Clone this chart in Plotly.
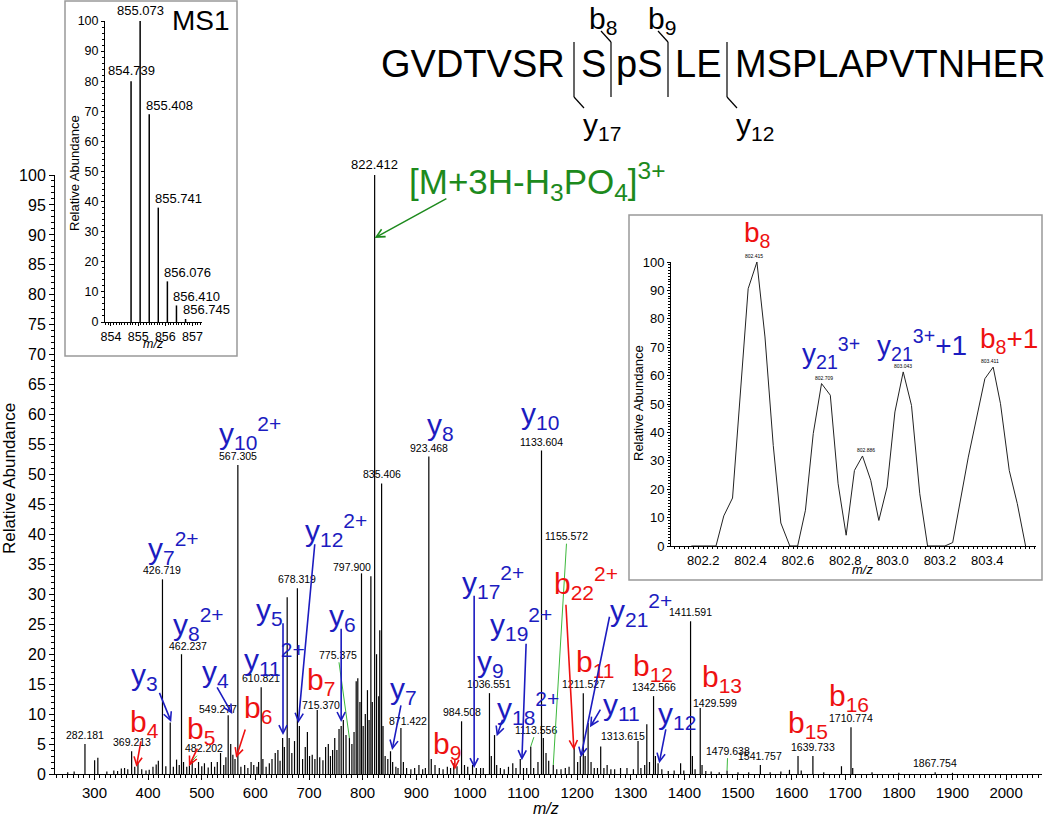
import plotly.graph_objects as go

W, H = 1050, 820
FONT = "Liberation Sans, Arial, sans-serif"
BLUE = "#1c1cc0"
RED = "#ee1111"
GREEN = "#1d8a1d"
LGREEN = "#3cb83c"

# ---------------- main MS/MS spectrum (m/z, relative abundance) ----------------
main_mz = [250, 262, 282.181, 300.2, 306.2, 323, 336, 343, 350, 356, 362, 369.213, 375, 381, 388, 396,
           402, 409, 415, 419, 426.719, 433, 441.2, 447, 453, 458, 462.237, 466, 472, 477, 482.202, 488,
           494, 500, 505, 512, 518, 524, 529, 535, 541, 545, 549.277, 554, 558, 562, 567.305, 573, 580,
           586, 592, 597, 603, 606, 610.821, 614, 620, 626, 631, 637, 642, 646, 650.8, 654, 659.3, 663,
           668, 673, 678.319, 682, 688, 693, 697, 701, 706, 711, 715.370, 720, 726, 731, 736, 740, 744,
           748, 752, 756, 760, 764, 769, 775.375, 780, 784, 788, 791, 795, 797.900, 801, 805, 809, 812,
           815.4, 818, 822.412, 826, 830, 832, 835.406, 838, 842, 847, 852, 856, 862, 866, 871.422, 876,
           882, 890, 897, 905, 912, 917, 923.468, 928, 935, 943, 950, 958, 964, 970, 976, 984.508, 990,
           996, 1005, 1012, 1020, 1025, 1036.551, 1040, 1046, 1050, 1057, 1064, 1072, 1080, 1086, 1094,
           1100, 1106, 1113.556, 1119, 1127, 1133.604, 1137, 1142, 1147, 1155.572, 1162, 1170, 1178,
           1185, 1194.5, 1201, 1206, 1211.527, 1215, 1220.5, 1226, 1232, 1238, 1244, 1250, 1256, 1263,
           1270, 1281, 1293, 1305, 1313.615, 1319, 1326, 1330, 1335, 1342.566, 1346, 1351, 1358, 1370,
           1381, 1393, 1399, 1411.591, 1415, 1420, 1429.599, 1433, 1440, 1450, 1465, 1479.638, 1500,
           1520, 1541.757, 1560, 1580, 1596, 1612, 1618, 1639.733, 1660, 1693, 1710.774, 1714, 1750,
           1800, 1867.754, 1900]
main_int = [0.3, 0.4, 5.0, 2.3, 2.7, 0.4, 0.6, 0.5, 0.9, 1.0, 0.8, 3.8, 1.2, 2.0, 0.8, 0.6,
            0.7, 1.2, 1.6, 2.2, 32.5, 1.3, 8.6, 1.2, 2.4, 1.5, 20.0, 2.0, 1.2, 1.4, 2.2, 1.0,
            2.0, 1.3, 1.8, 1.1, 2.0, 1.2, 2.0, 3.5, 1.5, 2.8, 9.8, 5.0, 3.2, 2.5, 51.6, 1.2, 1.5,
            1.0, 2.0, 1.5, 1.2, 2.0, 14.5, 2.5, 1.2, 1.8, 2.5, 3.5, 4.0, 2.2, 6.0, 4.5, 29.5, 6.0,
            3.5, 5.5, 31.0, 8.0, 2.5, 4.5, 7.0, 3.0, 3.2, 2.5, 10.7, 2.8, 2.3, 4.5, 5.0, 3.0, 4.0,
            6.0, 4.0, 7.5, 8.0, 9.0, 6.5, 6.0, 5.0, 7.0, 15.5, 16.0, 12.0, 33.5, 8.0, 10.0, 14.0, 9.0,
            33.0, 12.0, 100.0, 20.0, 13.0, 24.0, 48.5, 8.0, 3.0, 2.5, 3.8, 2.0, 1.2, 1.0, 7.7, 2.0,
            1.0, 0.8, 1.0, 1.5, 0.8, 1.0, 53.0, 2.5, 1.5, 1.0, 0.8, 1.2, 1.0, 1.8, 1.3, 8.8, 1.5,
            1.2, 1.5, 1.0, 1.0, 1.0, 13.5, 3.0, 6.5, 1.5, 1.0, 0.8, 1.2, 1.8, 1.0, 2.5,
            1.0, 1.0, 4.6, 1.0, 2.0, 54.0, 6.0, 3.5, 2.2, 1.5, 0.8, 0.8, 1.0,
            1.2, 4.5, 2.0, 3.0, 13.5, 3.0, 8.5, 2.0, 1.0, 1.0, 4.6, 1.0, 1.5, 0.8,
            0.8, 1.0, 1.0, 0.8, 5.5, 1.0, 1.5, 8.3, 2.0, 13.0, 3.0, 1.8, 0.8, 0.5,
            0.6, 1.8, 0.6, 25.5, 3.0, 0.8, 11.0, 1.5, 0.5, 0.4, 0.3, 0.6, 0.3,
            0.3, 1.5, 0.3, 0.4, 0.7, 3.0, 0.6, 3.0, 0.3, 1.3, 7.8, 1.0, 0.3,
            0.2, 0.3, 0.2]

# peak labels: value shown, label position (m/z, abundance) ; None = directly above the peak
lab_mz = [282.181, 369.213, 426.719, 462.237, 482.202, 549.277, 567.305, 610.821, 678.319, 715.370,
          775.375, 797.900, 822.412, 835.406, 871.422, 923.468, 984.508, 1036.551, 1113.556, 1133.604,
          1155.572, 1211.527, 1313.615, 1342.566, 1411.591, 1429.599, 1479.638, 1541.757, 1639.733,
          1710.774, 1867.754]
lab_pos = [None, None, None, (474, 21.3), (504, 4.3), (530, 10.9), None, None, None, (723, 11.6),
           (754, 19.9), (780, 34.6), None, None, (884, 8.8), None, None, None, (1124, 7.4), None,
           (1181, 39.7), None, (1286, 6.3), None, None, (1457, 11.8), (1481, 3.9), None, None,
           None, None]

# ion annotations (text, m/z, abundance)
blue_ions = [("y<sub>3</sub>", 393, 16.2), ("y<sub>4</sub>", 525, 16.7), ("y<sub>5</sub>", 626, 27.2),
             ("y<sub>6</sub>", 762, 26.2), ("y<sub>7</sub>", 877, 14.0), ("y<sub>8</sub>", 945, 58.0),
             ("y<sub>9</sub>", 1038, 18.4), ("y<sub>10</sub>", 1131, 59.8), ("y<sub>11</sub>", 1282, 11.2),
             ("y<sub>12</sub>", 1386, 9.8), ("y<sub>7</sub><sup>2+</sup>", 447, 37.7),
             ("y<sub>8</sub><sup>2+</sup>", 493, 25.0), ("y<sub>10</sub><sup>2+</sup>", 590, 57.0),
             ("y<sub>11</sub><sup>2+</sup>", 636, 19.2), ("y<sub>12</sub><sup>2+</sup>", 750, 40.7),
             ("y<sub>17</sub><sup>2+</sup>", 1043, 32.0), ("y<sub>18</sub><sup>2+</sup>", 1108, 11.0),
             ("y<sub>19</sub><sup>2+</sup>", 1096, 25.0), ("y<sub>21</sub><sup>2+</sup>", 1320, 27.4)]
red_ions = [("b<sub>4</sub>", 394, 8.5), ("b<sub>5</sub>", 498, 7.3), ("b<sub>6</sub>", 605, 10.7),
            ("b<sub>7</sub>", 723, 15.4), ("b<sub>9</sub>", 957, 4.8), ("b<sub>11</sub>", 1235, 18.5),
            ("b<sub>12</sub>", 1342, 17.7), ("b<sub>13</sub>", 1470, 16.0), ("b<sub>15</sub>", 1630, 8.2),
            ("b<sub>16</sub>", 1707, 12.8), ("b<sub>22</sub><sup>2+</sup>", 1217, 31.9)]
# arrows (tail m/z, tail abundance, tip m/z, tip abundance)
blue_arrows = [(420, 13.8, 443, 8.7), (527, 14.7, 557, 10.0), (651.5, 25.4, 651.5, 6.5),
               (760, 24.5, 760, 8.7), (872, 11.7, 855, 4.0), (1245, 11.0, 1224, 7.8),
               (1366, 7.7, 1353, 1.8), (711, 38.6, 680, 8.5), (1008, 30.0, 1008, 1.0),
               (1105, 22.0, 1097, 2.3), (1062, 9.3, 1050, 6.3), (1261, 26.5, 1207, 2.8)]
red_arrows = [(387, 5.7, 378, 1.2), (493, 4.5, 476, 1.3), (582, 7.7, 564, 2.7),
              (972, 2.6, 972, 0.7), (1179, 28.5, 1194, 4.0)]

# ---------------- MS1 inset ----------------
ms1_mz = [854.739, 855.073, 855.408, 855.741, 856.076, 856.410, 856.745]
ms1_int = [80, 100, 69, 38, 13.5, 5.5, 1]

# ---------------- zoomed profile inset ----------------
prof_mz = [802.15, 802.254, 802.287, 802.324, 802.390, 802.427, 802.461, 802.496, 802.528, 802.566,
           802.599, 802.632, 802.665, 802.700, 802.737, 802.770, 802.804, 802.839, 802.873, 802.908,
           802.942, 802.977, 803.010, 803.045, 803.080, 803.115, 803.148, 803.221, 803.254, 803.320,
           803.390, 803.425, 803.456, 803.493, 803.527, 803.562]
prof_int = [0, 0, 10.6, 16.9, 90.6, 100, 73.6, 35.4, 8.1, 0,
            0, 12.6, 39.6, 57.2, 53.1, 21.9, 3.8, 26.6, 31.7, 23.1,
            9.0, 20.8, 47.2, 61.3, 49.5, 18.4, 0, 0, 1.2, 31.3,
            58.9, 63.0, 50.1, 26.6, 14.9, 0]
prof_lab_mz = [802.415, 802.709, 802.886, 803.043, 803.411]
prof_lab_int = [100, 57.2, 31.7, 61.3, 63.0]


def PX(x):
    return x / W


def PY(y):
    return 1 - y / H


def sticks(xs, ys):
    sx, sy = [], []
    for a, b in zip(xs, ys):
        sx += [a, a, None]
        sy += [0, b, None]
    return sx, sy


def paper_text(x, y, text, size, color="black", xanchor="center", angle=0):
    return dict(x=PX(x), y=PY(y), xref="paper", yref="paper", xanchor=xanchor, yanchor="middle",
                text=text, textangle=angle, showarrow=False,
                font=dict(size=size, color=color, family=FONT))


fig = go.Figure()
sx, sy = sticks(main_mz, main_int)
fig.add_trace(go.Scatter(x=sx, y=sy, mode="lines", line=dict(color="black", width=1.2),
                         xaxis="x", yaxis="y", hoverinfo="skip", showlegend=False))
sx, sy = sticks(ms1_mz, ms1_int)
fig.add_trace(go.Scatter(x=sx, y=sy, mode="lines", line=dict(color="black", width=1.5),
                         xaxis="x2", yaxis="y2", hoverinfo="skip", showlegend=False))
fig.add_trace(go.Scatter(x=prof_mz, y=prof_int, mode="lines", line=dict(color="#222", width=1),
                         xaxis="x3", yaxis="y3", hoverinfo="skip", showlegend=False))

ann = []
for i, m in enumerate(lab_mz):
    h = main_int[main_mz.index(m)]
    fs = 13 if m == 822.412 else 10.5
    if lab_pos[i] is None:
        ann.append(dict(x=m, y=h, xref="x", yref="y", text=f"{m:.3f}", showarrow=False,
                        xanchor="center", yanchor="bottom", yshift=1,
                        font=dict(size=fs, color="black", family=FONT)))
    else:
        lx, ly = lab_pos[i]
        ann.append(dict(x=m, y=h, xref="x", yref="y", ax=lx, ay=ly, axref="x", ayref="y",
                        text=f"{m:.3f}", showarrow=True, arrowhead=0, arrowwidth=1,
                        arrowcolor=LGREEN, standoff=0, startstandoff=0,
                        font=dict(size=fs, color="black", family=FONT)))

for t, x, y in blue_ions:
    ann.append(dict(x=x, y=y, xref="x", yref="y", text=t, showarrow=False, xanchor="center",
                    yanchor="middle", font=dict(size=30, color=BLUE, family=FONT)))
for t, x, y in red_ions:
    ann.append(dict(x=x, y=y, xref="x", yref="y", text=t, showarrow=False, xanchor="center",
                    yanchor="middle", font=dict(size=30, color=RED, family=FONT)))
for arrows, col in ((blue_arrows, BLUE), (red_arrows, RED)):
    for tx, ty, hx, hy in arrows:
        ann.append(dict(x=hx, y=hy, ax=tx, ay=ty, xref="x", yref="y", axref="x", ayref="y",
                        text="", showarrow=True, arrowhead=5, arrowsize=1.0, arrowwidth=1.6,
                        arrowcolor=col))

ann.append(dict(x=822.412, y=89.5, ax=959, ay=96.2, xref="x", yref="y", axref="x", ayref="y",
                text="", showarrow=True, arrowhead=5, arrowsize=1.1, arrowwidth=1.5, arrowcolor=GREEN))
ann.append(paper_text(407, 182, "[M+3H-H<sub>3</sub>PO<sub>4</sub>]<sup>3+</sup>", 35, GREEN, "left"))

ann.append(paper_text(10, 479, "Relative Abundance", 17, angle=-90))
ann.append(paper_text(546, 808, "<i>m/z</i>", 16))

for i, m in enumerate(ms1_mz):
    if i < 2:
        ann.append(dict(x=m, y=ms1_int[i], xref="x2", yref="y2", text=f"{m:.3f}", showarrow=False,
                        xanchor="center", yanchor="bottom", yshift=1,
                        font=dict(size=13, color="black", family=FONT)))
    else:
        ann.append(dict(x=m, y=ms1_int[i], xref="x2", yref="y2", text=f"{m:.3f}", showarrow=False,
                        xanchor="left", yanchor="middle", xshift=-5, yshift=9,
                        font=dict(size=13, color="black", family=FONT)))
ann.append(paper_text(232, 20, "MS1", 28, xanchor="right"))
ann.append(paper_text(75, 173, "Relative Abundance", 13, angle=-90))
ann.append(paper_text(153, 344, "<i>m/z</i>", 12.5))

for m, v in zip(prof_lab_mz, prof_lab_int):
    ann.append(dict(x=m, y=v, xref="x3", yref="y3", text=f"{m:.3f}", showarrow=False,
                    xanchor="center", yanchor="bottom", yshift=1,
                    font=dict(size=5, color="black", family=FONT)))
for t, x, y, c in (("y<sub>21</sub><sup>3+</sup>", 802.742, 68, BLUE),
                   ("y<sub>21</sub><sup>3+</sup>+1", 803.124, 70.8, BLUE),
                   ("b<sub>8</sub>+1", 803.494, 72.5, RED)):
    ann.append(dict(x=x, y=y, xref="x3", yref="y3", text=t, showarrow=False, xanchor="center",
                    yanchor="middle", font=dict(size=28, color=c, family=FONT)))
ann.append(paper_text(757, 234, "b<sub>8</sub>", 28, RED))
ann.append(paper_text(638, 403, "Relative Abundance", 13, angle=-90))
ann.append(paper_text(862, 569, "<i>m/z</i>", 13))

SEQ_Y = 64
for t, x, anchor in (("GVDTVSR", 567, "right"), ("S", 593, "center"), ("pS", 639, "center"),
                     ("LE", 698, "center"), ("MSPLAPVTNHER", 733, "left")):
    ann.append(paper_text(x, SEQ_Y, t, 38, xanchor=anchor))
for t, x, y in (("b<sub>8</sub>", 603, 20), ("b<sub>9</sub>", 662, 20),
                ("y<sub>17</sub>", 602, 126), ("y<sub>12</sub>", 755, 126)):
    ann.append(paper_text(x, y, t, 30))

shapes = []
for x in (574, 611, 668, 727):
    shapes.append(dict(type="line", xref="paper", yref="paper", x0=PX(x), x1=PX(x),
                       y0=PY(42), y1=PY(97), line=dict(color="black", width=1.2)))
for x0, y0, x1, y1 in ((611, 42, 601, 31), (668, 42, 658, 31), (574, 97, 584, 108), (727, 97, 737, 108)):
    shapes.append(dict(type="line", xref="paper", yref="paper", x0=PX(x0), x1=PX(x1),
                       y0=PY(y0), y1=PY(y1), line=dict(color="black", width=1.2)))
shapes.append(dict(type="rect", xref="paper", yref="paper", x0=PX(65), x1=PX(237), y0=PY(356), y1=PY(1),
                   line=dict(color="#999", width=1.5)))
shapes.append(dict(type="rect", xref="paper", yref="paper", x0=PX(629), x1=PX(1042), y0=PY(580), y1=PY(215),
                   line=dict(color="#999", width=1.5)))

axis_common = dict(showline=True, linecolor="black", linewidth=1, ticks="outside", tickcolor="black",
                   showgrid=False, zeroline=False, tickwidth=1, automargin=False)

fig.update_layout(
    width=W, height=H, margin=dict(l=0, r=0, t=0, b=0, pad=0, autoexpand=False), autosize=False,
    paper_bgcolor="white", plot_bgcolor="white", showlegend=False,
    font=dict(family=FONT, color="black"),
    xaxis=dict(domain=[PX(55), PX(1042)], range=[226.3, 2067], anchor="y", tick0=300, dtick=100,
               ticklen=5, tickfont=dict(size=15),
               minor=dict(dtick=10, ticklen=3, ticks="outside", tickcolor="black"), **axis_common),
    yaxis=dict(domain=[PY(774), PY(175)], range=[0, 100], anchor="x", dtick=5, ticklen=5,
               tickfont=dict(size=16),
               minor=dict(dtick=1, ticklen=3, ticks="outside", tickcolor="black"), **axis_common),
    xaxis2=dict(domain=[PX(105), PX(202)], range=[853.78, 857.35], anchor="y2", dtick=1, ticklen=3,
                tickfont=dict(size=12.5),
                minor=dict(dtick=0.1, ticklen=2, ticks="outside", tickcolor="black"), **axis_common),
    yaxis2=dict(domain=[PY(322), PY(21)], range=[0, 100], anchor="x2", dtick=10, ticklen=3,
                tickfont=dict(size=12.5),
                minor=dict(dtick=2, ticklen=2, ticks="outside", tickcolor="black"), **axis_common),
    xaxis3=dict(domain=[PX(671), PX(1036)], range=[802.064, 803.606], anchor="y3", tick0=802.2,
                dtick=0.2, tickformat=".1f", ticklen=2, tickfont=dict(size=13),
                minor=dict(dtick=0.02, ticklen=2, ticks="outside", tickcolor="black"), **axis_common),
    yaxis3=dict(domain=[PY(546), PY(262)], range=[0, 100], anchor="x3", dtick=10, ticklen=3,
                tickfont=dict(size=13),
                minor=dict(dtick=1, ticklen=2, ticks="outside", tickcolor="black"), **axis_common),
    annotations=ann, shapes=shapes,
)

fig.write_html("out.html", config={"displayModeBar": False},
               post_script="document.body.style.margin='0';document.body.style.overflow='hidden';")
